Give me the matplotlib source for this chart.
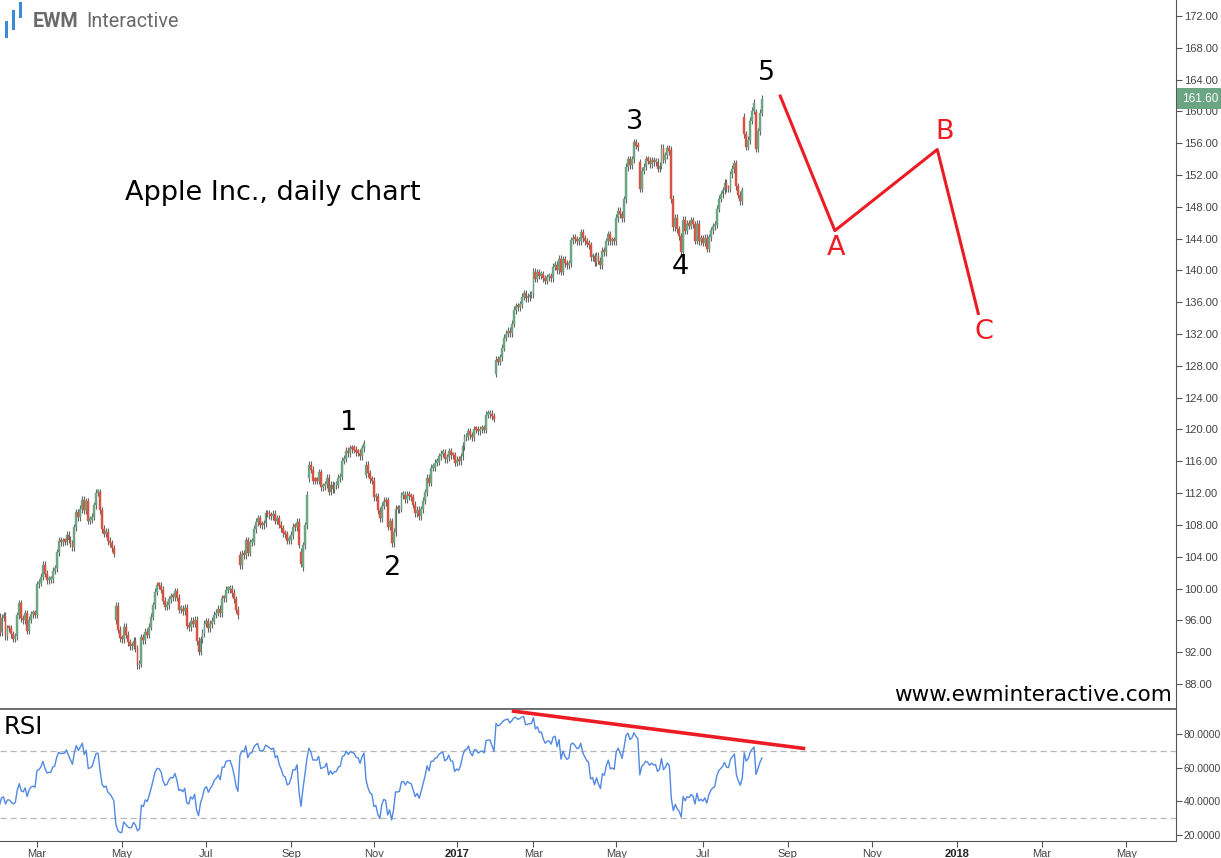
import numpy as np
import pandas as pd
import matplotlib
matplotlib.use("Agg")
import matplotlib.pyplot as plt
import matplotlib.transforms as mtransforms
from matplotlib.patches import Rectangle

# AAPL daily closes, one list per month (Feb 2016 - 15 Aug 2017)
close_2016_02 = [96.43, 94.48, 96.35, 96.60, 94.02, 95.01, 94.99, 94.27, 93.70, 93.99,
                 96.64, 98.12, 96.26, 96.04, 96.88, 94.69, 96.10, 96.76, 96.91, 96.69]
close_2016_03 = [100.53, 100.75, 101.50, 103.01, 101.87, 101.03, 101.12, 101.17, 102.26, 102.52,
                 104.58, 105.97, 105.80, 105.92, 105.91, 106.72, 106.13, 105.67, 105.19, 107.68,
                 109.56, 108.99]
close_2016_04 = [109.99, 111.12, 109.81, 110.96, 108.54, 108.66, 109.02, 110.44, 112.04, 112.10,
                 109.85, 107.48, 106.91, 107.13, 105.97, 105.68, 105.08, 104.35, 97.82, 94.83, 93.74]
close_2016_05 = [93.64, 95.18, 94.19, 93.24, 92.72, 92.79, 93.42, 92.51, 90.34, 90.52,
                 93.88, 93.49, 94.56, 94.20, 95.22, 96.43, 97.90, 99.62, 100.41, 100.35, 99.86]
close_2016_06 = [98.46, 97.72, 97.92, 98.63, 99.03, 98.94, 99.65, 98.83, 97.34, 97.46,
                 97.14, 97.55, 95.33, 95.10, 95.91, 95.55, 96.10, 93.40, 92.04, 93.59, 94.40, 95.60]
close_2016_07 = [95.89, 94.99, 95.53, 95.94, 96.68, 96.98, 97.42, 96.87, 98.79, 98.78,
                 99.83, 99.87, 99.96, 99.43, 98.66, 97.34, 96.67, 102.95, 104.34, 104.21]
close_2016_08 = [106.05, 104.48, 105.79, 105.87, 107.48, 108.37, 108.81, 108.00, 107.93, 108.18,
                 109.48, 109.38, 109.22, 109.08, 109.36, 108.51, 108.85, 108.03, 107.57, 106.94,
                 106.82, 106.00, 106.10]
close_2016_09 = [106.73, 107.73, 107.70, 108.36, 105.52, 103.13, 105.44, 107.95, 111.77, 115.57,
                 114.92, 113.58, 113.57, 113.55, 114.62, 112.71, 112.88, 113.09, 113.95, 112.18, 113.05]
close_2016_10 = [112.52, 113.00, 113.05, 113.89, 114.06, 116.05, 116.30, 117.34, 116.98, 117.63,
                 117.55, 117.47, 117.12, 117.06, 116.60, 117.65, 118.25, 115.59, 114.48, 113.72, 113.54]
close_2016_11 = [111.49, 111.59, 109.83, 108.84, 110.41, 111.06, 110.88, 107.79, 108.43, 105.71,
                 107.11, 109.99, 109.95, 110.06, 111.73, 111.80, 111.23, 111.79, 111.57, 111.46, 110.52]
close_2016_12 = [109.49, 109.90, 109.11, 109.95, 111.03, 112.12, 113.95, 113.30, 115.19, 115.19,
                 115.82, 115.97, 116.64, 116.95, 117.06, 116.29, 116.52, 117.26, 116.76, 116.73, 115.82]
close_2017_01 = [116.15, 116.02, 116.61, 117.91, 118.99, 119.11, 119.75, 119.25, 119.04, 120.00,
                 119.99, 119.78, 120.00, 120.08, 119.97, 121.88, 121.94, 121.95, 121.63, 121.35]
close_2017_02 = [128.75, 128.53, 129.08, 130.29, 131.53, 132.04, 132.42, 132.12, 133.29, 135.02,
                 135.51, 135.35, 135.72, 136.70, 137.11, 136.53, 136.66, 136.93, 136.99]
close_2017_03 = [139.79, 138.96, 139.78, 139.34, 139.52, 139.00, 138.68, 139.14, 139.20, 138.99,
                 140.46, 140.69, 139.99, 141.46, 139.84, 141.42, 140.92, 140.64, 140.88, 143.80,
                 144.12, 143.93, 143.66]
close_2017_04 = [143.70, 144.77, 144.02, 143.66, 143.34, 143.17, 141.63, 141.80, 141.05, 141.83,
                 141.20, 140.68, 142.44, 142.27, 143.64, 144.53, 143.68, 143.79, 143.65]
close_2017_05 = [146.58, 147.51, 147.06, 146.53, 148.96, 153.01, 153.99, 153.26, 153.95, 156.10,
                 155.70, 155.47, 150.25, 152.54, 153.06, 153.99, 153.80, 153.34, 153.87, 153.61,
                 153.67, 152.76]
close_2017_06 = [153.18, 155.45, 153.93, 154.45, 155.37, 154.99, 148.98, 145.42, 146.59, 145.16,
                 144.29, 142.27, 146.34, 145.01, 145.87, 145.63, 146.28, 145.82, 143.73, 145.83,
                 143.68, 144.02]
close_2017_07 = [143.50, 144.09, 142.73, 144.18, 145.06, 145.53, 145.74, 147.77, 149.04, 149.56,
                 150.08, 151.02, 150.34, 150.27, 152.09, 152.74, 153.46, 150.56, 149.50, 148.73]
close_2017_08 = [150.05, 157.14, 155.57, 156.39, 158.81, 160.08, 161.06, 155.32, 157.48, 159.85, 161.60]

# Dec 2015 - Jan 2016 closes, not drawn, only to warm up the RSI
warmup_close = [117.34, 116.28, 115.20, 119.03, 118.28, 118.23, 115.62, 116.17, 113.18, 112.48,
                110.49, 111.34, 108.98, 106.03, 107.33, 107.23, 108.61, 108.03, 106.82, 108.74,
                107.32, 105.26, 105.35, 102.71, 100.70, 96.45, 96.96, 98.53, 99.96, 97.39,
                99.52, 97.13, 96.66, 96.79, 96.30, 101.42, 99.44, 99.99, 93.42, 94.09, 97.34]

# days where the open gapped away from the previous close
gap_open = {'2016-04-27': 96.00, '2016-07-27': 104.27, '2016-09-09': 104.64,
            '2016-09-12': 102.65, '2016-09-15': 113.86, '2016-10-26': 114.31,
            '2016-11-10': 111.09, '2017-02-01': 127.03, '2017-05-17': 153.60,
            '2017-06-09': 155.19, '2017-08-02': 159.28, '2017-08-10': 159.90}

nyse_holidays = ['2016-02-15', '2016-03-25', '2016-05-30', '2016-07-04', '2016-09-05',
                 '2016-11-24', '2016-12-26', '2017-01-02', '2017-01-16', '2017-02-20',
                 '2017-04-14', '2017-05-29', '2017-07-04']

# projected A-B-C correction and the RSI divergence line
wave_dates = ['2017-08-28', '2017-10-05', '2017-12-18', '2018-01-16']
wave_prices = [162.1, 145.0, 155.2, 134.4]
rsi_line_dates = ['2017-02-13', '2017-09-14']
rsi_line_values = [93.7, 71.3]

price_ticks = list(range(88, 173, 4))
rsi_ticks = [20, 40, 60, 80]
last_price = 161.60

GREEN = '#6ba583'
RED = '#d75442'
WICK = '#666666'
LINE_RED = '#ec1c24'

close = np.array(sum([close_2016_02, close_2016_03, close_2016_04, close_2016_05, close_2016_06,
                      close_2016_07, close_2016_08, close_2016_09, close_2016_10, close_2016_11,
                      close_2016_12, close_2017_01, close_2017_02, close_2017_03, close_2017_04,
                      close_2017_05, close_2017_06, close_2017_07, close_2017_08], []))

hist = pd.bdate_range('2016-02-01', '2017-08-15', freq='C', holidays=nyse_holidays)
future = pd.bdate_range('2017-08-16', '2018-08-31')
dates = hist.append(future)
n = len(close)
x = np.arange(n)


def bar_of(d):
    return int(dates.searchsorted(pd.Timestamp(d)))


opn = np.r_[warmup_close[-1], close[:-1]]
for d, v in gap_open.items():
    opn[bar_of(d)] = v
top = np.maximum(opn, close)
bot = np.minimum(opn, close)
up = close >= opn

# Wilder RSI(14)
allc = np.array(warmup_close + list(close))
diff = np.diff(allc)
gain = np.clip(diff, 0, None)
loss = np.clip(-diff, 0, None)
ag, al = gain[:14].mean(), loss[:14].mean()
rsi_all = [np.nan] * 14
for k in range(14, len(diff)):
    ag = (ag * 13 + gain[k]) / 14
    al = (al * 13 + loss[k]) / 14
    rsi_all.append(100 - 100 / (1 + ag / al))
rsi = np.array(rsi_all)[-n:]

W, H = 1221, 858
fig = plt.figure(figsize=(W / 100, H / 100), dpi=100)
ax = fig.add_axes([0, 1 - 709 / H, 1176 / W, 709 / H])
ax2 = fig.add_axes([0, 1 - 841 / H, 1176 / W, 132 / H])

ppb = 1.97
i_mar = bar_of('2016-03-01')
xlim = (i_mar - 37 / ppb, i_mar + (1176 - 37) / ppb)

# candles
ax.vlines(x, bot - 0.45, top + 0.45, color=WICK, lw=0.8, zorder=2)
cols = np.where(up, GREEN, RED)
ax.bar(x, np.maximum(top - bot, 0.3), bottom=bot, width=0.95,
       color=cols, edgecolor=cols, linewidth=0.3, zorder=3)

# projected correction
ax.plot([bar_of(d) for d in wave_dates], wave_prices, color=LINE_RED, lw=2.2,
        solid_capstyle='butt', zorder=4)

ax.set_xlim(*xlim)
ax.set_ylim(84.85, 174.0)
ax2.set_xlim(*xlim)
ax2.set_ylim(16.4, 94.85)

tick_font = dict(family='Liberation Sans', size=8)
for a in (ax, ax2):
    a.spines['left'].set_visible(False)
    a.spines['right'].set_color('#555555')
    a.spines['bottom'].set_color('#555555')
    a.yaxis.tick_right()
    a.tick_params(axis='y', colors='#555555', length=4, width=0.8, pad=2, labelcolor='#444444')
ax.spines['top'].set_visible(False)
ax2.spines['top'].set_color('#555555')
ax2.spines['top'].set_linewidth(1.2)

ax.set_xticks([])
ax.set_yticks(price_ticks)
ax.set_yticklabels([f'{v:.2f}' for v in price_ticks], fontdict=tick_font)

ax2.plot(x, rsi, color='#5189e2', lw=1.0, zorder=3)
for lvl in (70, 30):
    ax2.axhline(lvl, color='#b8b8b8', lw=0.9, dashes=(5, 3), zorder=1)
ax2.plot([bar_of(d) for d in rsi_line_dates], rsi_line_values, color=LINE_RED, lw=2.6,
         solid_capstyle='butt', zorder=4)
ax2.set_yticks(rsi_ticks)
ax2.set_yticklabels([f'{v:.4f}' for v in rsi_ticks], family='Liberation Sans', size=7.4)
ax2.tick_params(axis='y', pad=1.5)

# month ticks every second month
tick_pos, tick_lab = [], []
for m in pd.date_range('2016-03-01', '2018-05-01', freq='2MS'):
    tick_pos.append(bar_of(m))
    tick_lab.append(str(m.year) if m.month == 1 else m.strftime('%b'))
ax2.set_xticks(tick_pos)
ax2.set_xticklabels(tick_lab, fontdict=tick_font)
ax2.tick_params(axis='x', colors='#555555', length=4, width=0.8, pad=2, labelcolor='#444444')
for t in ax2.get_xticklabels():
    if t.get_text().isdigit():
        t.set_fontweight('bold')
        t.set_color('#222222')

# last price tag
tr = mtransforms.blended_transform_factory(ax.transAxes, ax.transData)
ax.text(1 + 6 / 1176, last_price, f'{last_price:.2f}', transform=tr, ha='left', va='center',
        color='white', family='Liberation Sans', size=8.5, clip_on=False,
        bbox=dict(boxstyle='square,pad=0.4', fc=GREEN, ec='none'))


def fx(px):
    return px / W


def fy(py):
    return 1 - py / H


fig.text(fx(273), fy(193), 'Apple Inc., daily chart', ha='center', va='center',
         family='DejaVu Sans', size=19.5, color='black')
for s, (px, py) in zip(['1', '2', '3', '4', '5'],
                       [(349, 423), (393, 568), (635, 122), (680, 267), (766, 73)]):
    fig.text(fx(px), fy(py), s, ha='center', va='center', family='DejaVu Sans', size=19.5,
             color='black')
for s, (px, py) in zip(['A', 'B', 'C'], [(836, 248), (945, 132), (984, 332)]):
    fig.text(fx(px), fy(py), s, ha='center', va='center', family='DejaVu Sans', size=19.5,
             color=LINE_RED)
fig.text(fx(4), fy(727), 'RSI', ha='left', va='center', family='DejaVu Sans', size=17.5,
         color='black')
fig.text(fx(1172), fy(695), 'www.ewminteractive.com', ha='right', va='center',
         family='DejaVu Sans', size=15.5, color='black')

# logo
for lx, ly0, ly1 in [(5, 21, 38), (12, 10, 30), (19, 2, 18)]:
    fig.patches.append(Rectangle((fx(lx), fy(ly1)), 3 / W, (ly1 - ly0) / H,
                                 transform=fig.transFigure, fc='#3b8ad8', ec='none'))
fig.text(fx(33), fy(27), 'EWM', ha='left', va='baseline', family='Roboto', weight='bold',
         size=14.2, color='#6a6a6a')
fig.text(fx(86), fy(27), 'Interactive', ha='left', va='baseline', family='Roboto',
         size=14.2, color='#6a6a6a')

fig.savefig('out.png', dpi=100)
